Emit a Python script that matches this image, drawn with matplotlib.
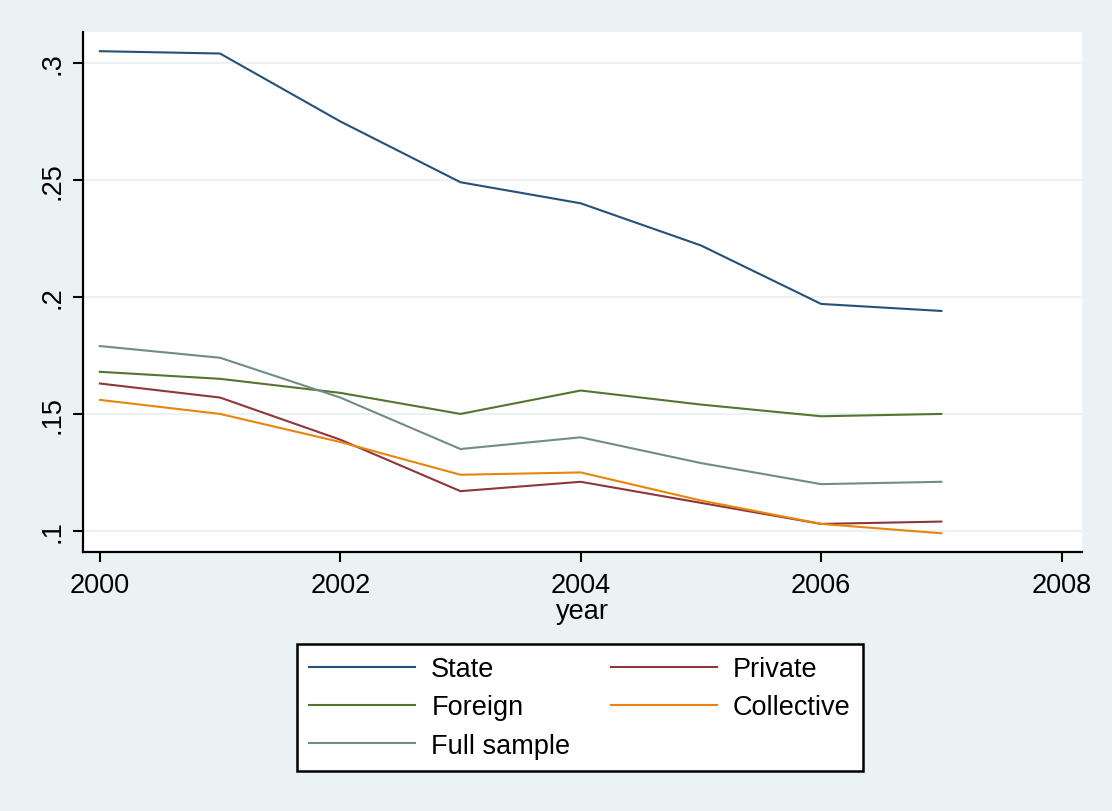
import numpy as np
import matplotlib.pyplot as plt

plt.rcParams['font.family'] = ['Liberation Sans', 'DejaVu Sans']

# Data
years = [2000, 2001, 2002, 2003, 2004, 2005, 2006, 2007]
state = [0.305, 0.304, 0.275, 0.249, 0.240, 0.222, 0.197, 0.194]
private = [0.163, 0.157, 0.139, 0.117, 0.121, 0.112, 0.103, 0.104]
foreign = [0.168, 0.165, 0.159, 0.150, 0.160, 0.154, 0.149, 0.150]
collective = [0.156, 0.150, 0.138, 0.124, 0.125, 0.113, 0.103, 0.099]
full_sample = [0.179, 0.174, 0.157, 0.135, 0.140, 0.129, 0.120, 0.121]

x_ticks = [2000, 2002, 2004, 2006, 2008]
y_ticks = [0.1, 0.15, 0.2, 0.25, 0.3]
y_labels = ['.1', '.15', '.2', '.25', '.3']

bg = '#eaf2f3'
fs = 19.5

fig = plt.figure(figsize=(11.12, 8.12), dpi=100, facecolor=bg)
ax = fig.add_axes([83 / 1112, 1 - 553 / 812, 999 / 1112, 520 / 812])
ax.set_facecolor('white')

lw = 1.5
ax.plot(years, state, color='#24507a', lw=lw, label='State')
ax.plot(years, private, color='#90353b', lw=lw, label='Private')
ax.plot(years, foreign, color='#55752f', lw=lw, label='Foreign')
ax.plot(years, collective, color='#e8850a', lw=lw, label='Collective')
ax.plot(years, full_sample, color='#6e8e84', lw=lw, label='Full sample')

ax.set_xlim(1999.86, 2008.17)
ax.set_ylim(0.091, 0.3132)
ax.set_xticks(x_ticks)
ax.set_yticks(y_ticks)
ax.set_yticklabels(y_labels, rotation=90, va='center')
ax.tick_params(axis='both', labelsize=fs, width=1.5, length=7.5, color='black')
ax.tick_params(axis='y', pad=5)
ax.tick_params(axis='x', pad=7)
ax.grid(axis='y', color=bg, lw=1.5)
ax.set_axisbelow(True)

for s in ['top', 'right']:
    ax.spines[s].set_visible(False)
for s in ['left', 'bottom']:
    ax.spines[s].set_linewidth(1.6)
    ax.spines[s].set_color('black')

ax.set_xlabel('year', fontsize=fs, labelpad=0)

# legend order as in Stata's 2-column layout
handles, labels = ax.get_legend_handles_labels()
order = [0, 2, 4, 1, 3]
leg = fig.legend([handles[i] for i in order], [labels[i] for i in order],
                 loc='upper center', bbox_to_anchor=(580 / 1112, 1 - 645 / 812),
                 ncol=2, fontsize=fs, frameon=True, fancybox=False,
                 framealpha=1, edgecolor='black', handlelength=3.9,
                 columnspacing=1.5, labelspacing=0.45, borderpad=0.45,
                 handletextpad=0.6, borderaxespad=0)
leg.get_frame().set_linewidth(1.8)

fig.savefig('out.png', dpi=100, facecolor=bg)
